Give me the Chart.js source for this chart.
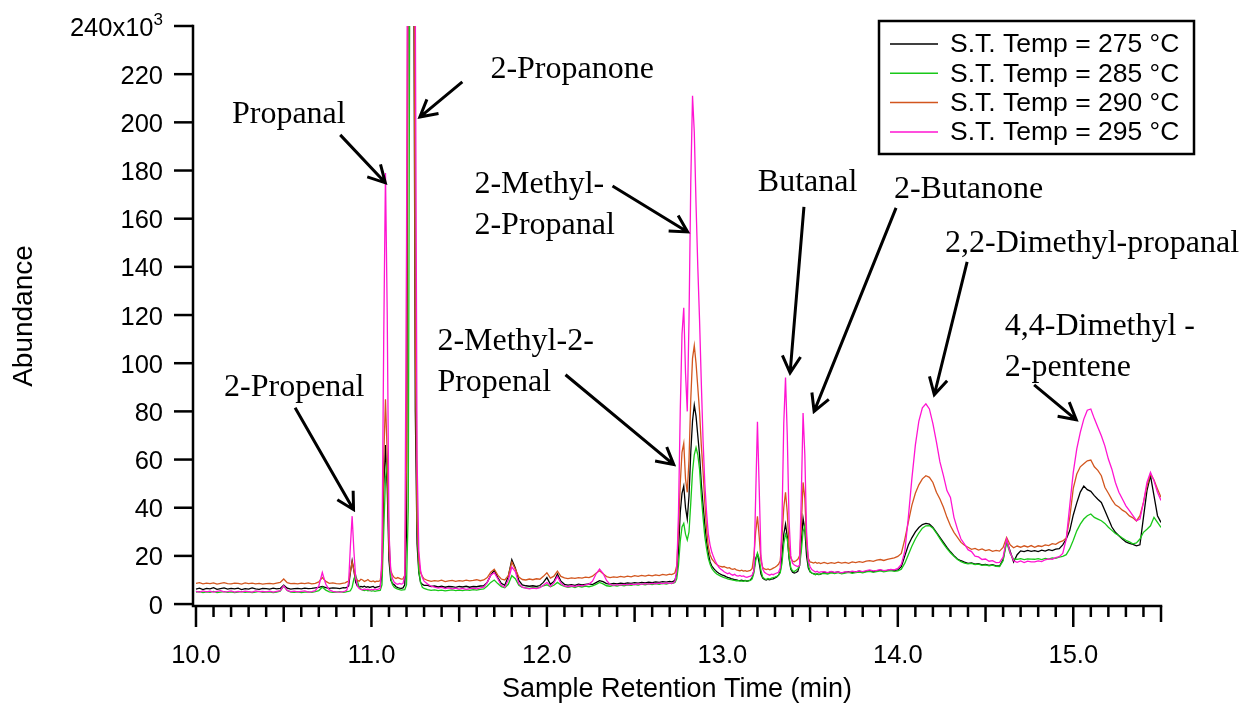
<!DOCTYPE html>
<html>
<head>
<meta charset="utf-8">
<script src="https://cdn.jsdelivr.net/npm/chart.js@4.4.1/dist/chart.umd.min.js"></script>
<style>
  html, body { margin: 0; background: #fff; }
  canvas { display: block; }
</style>
</head>
<body>
<canvas id="chromatogram" width="1249" height="706"></canvas>
<script>
// retention-time sampling: [first, last, step] in min (finer around the sharp peaks)
const timeBlocks = [
  [10.00, 10.84, 0.02],
  [10.85, 11.30, 0.01],
  [11.32, 12.70, 0.02],
  [12.71, 13.56, 0.01],
  [13.58, 15.50, 0.02]
];

const seriesLabels = ['S.T. Temp = 275 °C', 'S.T. Temp = 285 °C', 'S.T. Temp = 290 °C', 'S.T. Temp = 295 °C'];
const traceColors = ['#000000', '#19c819', '#d2561e', '#ff14d2'];

// abundance x10^3, one value per sampling time
const abund275 = [
  // 10.00 - 10.84
  6.2,6.6,6.0,6.5,6.3,6.8,6.1,6.4,6.7,6.2, 6.5,6.3,6.6,6.0,6.4,6.2,6.7,6.3,6.1,6.5,
  6.4,6.2,6.6,6.3,6.5,7.9,6.6,6.2,6.4,6.5, 6.3,6.6,6.4,6.5,6.7,6.9,7.3,6.8,6.5,6.7, 6.6,6.4,6.8,
  // 10.85 - 11.30
  6.7,6.9,7.5,13,18,14,9,7.5,7.0,7.3, 7.1,7.4,7.0,7.2,6.9,7.1,7.3,6.8,7.0,7.2,
  7.5,12,48,66,48,18,10,8.5,8.0,7.2, 6.8,6.6,6.5,6.7,8,30,300,550,500,300, 80,25,13,9,8.2,7.8,
  // 11.32 - 12.70
  7.8,7.3,7.5,7.1,7.4,7.0,7.3,7.2,6.9,7.3, 7.1,7.4,7.0,7.3,7.2,7.5,7.6,9.0,12.0,14.0,
  11.0,8.6,7.8,11.5,18.4,15.0,9.8,8.0,7.6,7.4, 7.6,7.3,7.7,9.0,11.0,8.2,9.4,12.5,9.5,8.2,
  7.9,8.1,7.8,8.3,8.0,8.2,8.4,8.1,8.9,9.7, 9.3,8.5,8.3,8.6,8.4,8.7,8.5,8.8,8.6,8.9,
  8.7,9.0,8.8,9.1,8.9,9.2,9.0,9.3,9.1,9.4,
  // 12.71 - 13.56
  9.2,9.4,10,12.5,22,38,46,49,40,35.3, 45,63,76,82.6,78,70,62,50,41,33,
  26,21,17.5,15.8,14.8,14.0,13.3,12.8,12.4,12.0, 11.8,11.4,11.1,10.9,10.6,10.4,10.2,10.0,9.8,9.7,
  9.9,9.6,9.8,9.5,9.7,10.0,11.0,14,19,20.8, 17,12.5,10.8,10.2,10.0,10.3,10.1,10.4,10.5,10.9,
  11.3,12.0,13.5,20,29,33.2,28,19,14.5,13.2, 12.9,13.1,13.6,16,26,35.6,31,20,15,13.4,
  12.9,12.6,12.3,12.5,12.2,12.4,
  // 13.58 - 15.50
  13.2,12.9,13.4,13.0,13.3,12.8,13.2,13.5,13.1,13.4, 13.7,13.3,13.6,13.9,13.5,13.8,14.1,13.7,14.0,14.2,
  13.9,14.2,15.5,20,24.5,27.5,30,31.8,33,33.5, 33.2,31.8,29.8,27.7,25.6,23.5,21.7,20.1,18.7,18.0,
  17.4,16.9,17.1,16.6,16.8,16.3,16.5,16.1,16.4,15.9, 15.8,18.5,26.3,22.0,17.5,20.5,22.1,21.8,22.3,21.9,
  22.2,21.8,22.4,22.0,22.6,22.2,22.8,23.0,24.6,27.0, 30.5,37.0,42.0,46.5,49.0,47.5,46.8,45.0,43.5,42.2,
  38.8,35.4,32.0,29.8,28.4,27.0,25.8,25.2,24.8,24.2, 24.6,36.0,47.1,53.3,45.0,36.7,33.9
];

const abund285 = [
  // 10.00 - 10.84
  5.0,5.2,4.8,5.1,4.9,5.3,4.8,5.0,5.2,4.9, 5.1,4.8,5.0,5.2,4.9,5.1,4.8,5.0,5.3,4.9,
  5.0,5.1,4.8,5.0,5.4,7.6,5.6,5.0,4.9,5.1, 4.8,5.0,5.1,4.9,5.2,5.6,7.0,5.8,5.1,4.9, 5.0,5.2,4.9,
  // 10.85 - 11.30
  5.0,5.2,5.3,5.5,7,10.5,12,9.5,7,6.2, 5.8,5.6,5.9,5.5,5.7,5.4,5.6,5.3,5.5,5.6,
  5.7,8,30,52,60,28,11,8,7,6.5, 6.2,6.0,5.8,5.9,6.0,8,40,300,500,420, 150,35,14,9,7,6.5,
  // 11.32 - 12.70
  6.0,5.7,5.9,5.6,5.8,5.5,5.7,5.9,5.6,5.8, 5.6,5.9,5.7,6.0,5.8,6.1,6.3,7.5,9.0,10.0,
  8.5,7.2,6.8,8.2,11.8,10.5,7.8,6.9,6.7,6.5, 6.8,6.6,7.0,7.6,8.0,7.2,7.8,9.0,7.9,7.3,
  7.0,7.3,6.9,7.4,7.1,7.5,7.2,7.6,8.2,9.0, 8.4,7.6,7.4,7.8,7.5,7.9,7.6,8.0,7.8,8.2,
  7.9,8.3,8.0,8.4,8.1,8.5,8.2,8.6,8.3,8.7,
  // 12.71 - 13.56
  8.5,8.7,9.0,10.5,16,26,32,33.5,29,26.6, 30,42,55,62,65,62,56,45,36,28,
  23,19,16.5,14.8,13.8,13.0,12.4,12.0,11.6,11.3, 11.0,10.8,10.5,10.3,10.1,9.9,9.8,9.6,9.7,9.5,
  9.6,9.4,9.7,9.5,9.6,9.8,10.5,13,18,21.2, 19,14,11.2,10.5,10.3,10.6,10.4,10.8,11.0,11.2,
  11.5,12.0,13.0,17,25,29,27,20,15,13.8, 13.5,14.0,14.6,16,22,30,32.5,24,16,13.5,
  12.8,12.5,12.2,12.6,12.3,12.5,
  // 13.58 - 15.50
  12.8,12.5,13.0,12.7,13.1,12.6,12.9,13.2,12.8,13.1, 13.3,13.0,13.4,13.6,13.2,13.5,13.8,13.4,13.7,13.9,
  13.6,13.8,14.5,17,20.5,24,27,29.5,31.5,32.5, 32.6,31.5,29.5,27.2,25.0,23.0,21.3,19.8,18.5,17.6,
  17.0,16.7,16.9,16.4,16.6,16.1,16.3,15.9,16.2,15.7, 15.6,18.0,25.6,21.0,18.7,18.6,18.9,18.5,18.8,18.7,
  18.6,18.9,18.5,19.0,18.7,19.2,19.0,19.5,19.8,20.5, 23.0,26.5,30.4,33.2,35.3,36.7,37.4,36.0,35.3,34.6,
  33.5,31.9,30.6,29.3,28.5,27.4,26.5,25.8,25.0,25.4, 27.0,29.8,31.1,32.5,36.0,33.9,31.8
];

const abund290 = [
  // 10.00 - 10.84
  8.6,8.9,8.4,8.7,8.5,8.8,8.3,8.6,8.9,8.5, 8.4,8.7,8.6,8.3,8.8,8.5,8.7,8.4,8.6,8.3,
  8.5,8.6,8.4,8.7,9.0,10.4,8.9,8.5,8.6,8.4, 8.7,8.5,8.8,8.4,8.6,9.2,11.0,9.4,8.6,8.8, 8.5,8.4,8.7,
  // 10.85 - 11.30
  8.8,9.2,9.5,13.5,17.5,14,10.5,9.8,9.5,10.3, 10.0,9.4,9.7,10.2,9.5,9.3,9.6,9.2,9.5,9.4,
  9.8,15,60,85,62,22,14,12,11,10.6, 11.0,10.7,10.4,10.5,12,60,350,560,540,350, 110,35,18,13,11.5,10.5,
  // 11.32 - 12.70
  9.8,9.4,9.7,9.5,9.9,9.3,9.6,9.8,9.4,9.7, 9.5,9.9,9.6,9.8,10.1,9.7,10.0,11.0,13.2,14.5,
  12.0,10.4,10.0,11.8,17.4,14.5,11.2,10.2,10.0,10.4, 10.1,10.5,10.3,11.5,13.0,10.8,11.6,13.7,11.5,10.9,
  10.6,10.9,10.7,11.0,10.8,11.2,11.0,11.6,12.8,13.8, 12.6,11.4,11.0,11.3,11.1,11.5,11.2,11.6,11.3,11.8,
  11.5,11.9,11.6,12.0,11.7,12.1,11.8,12.3,12.0,12.4,
  // 12.71 - 13.56
  12.2,12.5,13.0,16,30,50,63,66.7,52,46.4, 60,85,102,107.3,100,90,80,66,55,42,
  31,24,20.5,18.7,17.8,16.9,16.3,15.9,15.6,15.4, 15.6,15.2,14.9,15.1,14.6,14.4,14.7,14.2,14.0,13.8,
  14.1,13.7,13.9,13.6,13.8,14.0,14.8,20,30,36.4, 28,18,15.2,14.6,14.3,14.6,14.2,14.5,14.9,15.3,
  15.8,16.5,18,28,40,46.4,38,24,19,17.8, 17.6,18.0,18.6,20,32,50.5,44,26,19,17.5,
  17.3,17.0,17.4,16.9,17.2,16.8,
  // 13.58 - 15.50
  17.3,16.8,17.2,16.9,17.4,17.0,17.3,16.9,17.5,17.2, 17.6,17.3,17.8,18.0,17.7,18.2,18.5,18.1,18.6,18.9,
  19.2,19.8,21,27,34,41,46,49.5,52,53.3, 52.6,50.5,46.4,43.6,40.2,36.0,32.5,29.8,27.7,25.6,
  24.4,23.6,22.7,23.1,22.4,22.9,22.2,22.6,21.9,22.3, 22.0,23.5,27.7,24.6,23.4,24.1,23.6,24.2,23.7,24.3,
  23.6,24.2,23.9,24.6,24.3,25.1,24.8,25.7,26.2,27.4, 36.0,48.0,54.0,57.0,58.3,59.5,59.8,57.0,55.5,53.3,
  48.5,46.0,43.4,41.2,40.3,39.0,38.1,36.6,35.8,34.5, 36.7,42.2,49.0,54.0,51.5,47.8,44.3
];

const abund295 = [
  // 10.00 - 10.84
  5.3,5.0,5.5,5.1,5.4,5.0,5.3,5.6,5.1,5.2, 5.5,5.0,5.3,5.1,5.4,5.2,5.0,5.5,5.2,5.3,
  5.1,5.4,5.0,5.3,5.6,7.6,5.7,5.2,5.4,5.1, 5.3,5.5,5.0,5.2,5.6,7.5,13.1,8.2,5.9,5.3, 5.1,5.0,5.2,
  // 10.85 - 11.30
  5.4,5.8,9,24,36.5,22,11,7.5,6.5,6.1, 5.9,6.3,6.0,6.2,5.8,6.1,5.9,6.3,6.0,6.2,
  6.5,20,110,179,120,30,14,10.5,9.0,8.5, 8.2,8.6,8.3,8.5,12,150,400,600,620,500, 250,60,22,14,11,9.5,
  // 11.32 - 12.70
  8.3,7.4,7.0,6.6,6.9,6.4,6.7,6.3,6.6,6.2, 6.5,6.1,6.4,6.6,6.3,6.7,7.0,9.0,12.0,13.0,
  10.5,7.8,7.0,10.0,15.4,13.5,8.5,7.0,6.6,6.3, 6.6,6.4,6.8,7.8,9.0,7.4,8.8,11.5,8.6,7.5,
  7.2,7.6,7.3,7.8,7.5,8.0,8.3,9.5,12.5,14.5, 12.8,9.8,8.2,7.8,8.1,7.9,8.2,8.0,8.3,8.1,
  8.4,8.2,8.5,8.3,8.6,8.4,8.7,8.5,8.8,8.6,
  // 12.71 - 13.56
  8.6,8.8,9.5,14,38,80,112,123,96,80, 118,175,211,196,166,140,118,92,68,50,
  38,29,24.5,21.5,19.5,17.8,16.4,15.3,14.6,14.0, 13.4,13.0,12.6,12.9,12.3,12.0,12.4,11.8,11.6,11.9,
  11.5,11.7,11.3,11.1,11.4,11.6,12.0,14,45,75.7, 48,20,14.5,13.2,12.7,12.3,12.0,12.4,12.2,12.6,
  12.9,13.2,15,35,75,94.1,70,35,20,17, 16.2,15.9,15.6,16,45,79.3,62,30,18,15.5,
  14.3,13.8,13.3,13.6,13.1,13.4,
  // 13.58 - 15.50
  13.5,13.1,13.6,13.2,13.4,13.0,13.5,13.3,13.7,13.4, 13.8,13.5,13.9,14.2,13.8,14.0,14.3,13.9,14.1,14.4,
  14.2,14.8,16.5,22,36,52,66,76,81.5,83.1, 81.0,74.9,67.3,59.0,53.3,47.1,44.3,36.0,31.1,27.0,
  24.9,22.6,21.8,19.9,19.6,18.5,18.7,17.8,18.0,17.2, 17.3,19.5,27.0,21.5,18.0,17.3,17.9,17.2,17.8,17.5,
  17.5,17.9,17.6,18.4,18.8,18.6,19.3,19.7,21.0,27.0, 41.0,54.7,64.4,71.3,76.8,80.5,81.0,77.0,73.4,69.9,
  65.7,60.2,56.0,50.5,46.4,43.6,40.8,38.8,36.7,34.6, 35.3,42.2,50.5,54.7,51.2,46.4,43.0
];

const yTickValues = [0, 20, 40, 60, 80, 100, 120, 140, 160, 180, 200, 220, 240];
const xTickLabels = ['10.0', '11.0', '12.0', '13.0', '14.0', '15.0'];

// peak labels: text lines, first baseline at [time, abundance], arrow from -> to
const peakNotes = [
  { lines: ['2-Propenal'], at: [10.160, 86.5], from: [10.565, 81.5], to: [10.898, 39.2] },
  { lines: ['Propanal'], at: [10.205, 199.9], from: [10.822, 194.8], to: [11.079, 174.9] },
  { lines: ['2-Propanone'], at: [11.678, 218.4], from: [11.518, 216.8], to: [11.276, 202.2] },
  { lines: ['2-Methyl-', '2-Propanal'], at: [11.587, 170.7], from: [12.374, 173.6], to: [12.802, 154.5] },
  { lines: ['2-Methyl-2-', 'Propenal'], at: [11.376, 105.6], from: [12.106, 95.2], to: [12.723, 57.9] },
  { lines: ['Butanal'], at: [13.202, 171.5], from: [13.465, 164.9], to: [13.386, 96.0] },
  { lines: ['2-Butanone'], at: [13.978, 168.7], from: [13.990, 164.5], to: [13.523, 80.0] },
  { lines: ['2,2-Dimethyl-propanal'], at: [14.269, 146.2], from: [14.395, 142.1], to: [14.208, 86.9] },
  { lines: ['4,4-Dimethyl -', '2-pentene'], at: [14.610, 111.8], from: [14.777, 91.0], to: [15.017, 76.5] }
];

const SANS = '"Liberation Sans", Arial, sans-serif';
const SERIF = '"Liberation Serif", "Times New Roman", serif';

function buildTimes() {
  const out = [];
  timeBlocks.forEach(([first, last, step]) => {
    const n = Math.round((last - first) / step) + 1;
    for (let i = 0; i < n; i++) out.push(+(first + i * step).toFixed(2));
  });
  return out;
}

const times = buildTimes();
const toPoints = vals => vals.map((v, i) => ({ x: times[i], y: v }));

// Igor-style free axes with minor ticks on x
const axesPlugin = {
  id: 'axes',
  afterDraw(chart) {
    const { ctx, chartArea: a, scales: { x, y } } = chart;
    ctx.save();
    ctx.strokeStyle = '#000';
    ctx.fillStyle = '#000';
    ctx.lineWidth = 2.5;
    ctx.lineCap = 'square';

    ctx.beginPath();
    ctx.moveTo(a.left, a.top);
    ctx.lineTo(a.left, a.bottom);
    ctx.lineTo(a.right, a.bottom);
    ctx.stroke();

    ctx.lineCap = 'butt';
    ctx.font = '25.5px ' + SANS;
    ctx.textAlign = 'right';
    ctx.textBaseline = 'alphabetic';
    yTickValues.forEach(v => {
      const py = y.getPixelForValue(v);
      ctx.beginPath();
      ctx.moveTo(a.left - 19, py);
      ctx.lineTo(a.left, py);
      ctx.stroke();
      if (v === 240) {
        ctx.font = '17px ' + SANS;
        const supW = ctx.measureText('3').width;
        ctx.fillText('3', a.left - 30, py - 1);
        ctx.font = '25.5px ' + SANS;
        ctx.fillText('240x10', a.left - 30 - supW, py + 10);
      } else {
        ctx.fillText(String(v), a.left - 30, py + 9.5);
      }
    });

    for (let i = 0; i <= 55; i++) {
      const px = x.getPixelForValue(10 + i / 10);
      const len = i % 10 === 0 ? 21 : (i % 5 === 0 ? 16 : 11);
      ctx.beginPath();
      ctx.moveTo(px, a.bottom);
      ctx.lineTo(px, a.bottom + len);
      ctx.stroke();
    }
    ctx.textAlign = 'center';
    xTickLabels.forEach(lbl => {
      ctx.fillText(lbl, x.getPixelForValue(parseFloat(lbl)), a.bottom + 57);
    });

    ctx.font = '27px ' + SANS;
    ctx.fillText('Sample Retention Time (min)', (a.left + a.right) / 2, 697);
    ctx.font = '28px ' + SANS;
    ctx.translate(32, (a.top + a.bottom) / 2);
    ctx.rotate(-Math.PI / 2);
    ctx.fillText('Abundance', 0, 0);
    ctx.restore();
  }
};

const notesPlugin = {
  id: 'peakNotes',
  afterDraw(chart) {
    const { ctx, scales: { x, y } } = chart;
    ctx.save();
    ctx.fillStyle = '#000';
    ctx.strokeStyle = '#000';
    ctx.font = '32px ' + SERIF;
    ctx.textAlign = 'left';
    ctx.textBaseline = 'alphabetic';
    ctx.lineWidth = 3;
    peakNotes.forEach(n => {
      const tx = x.getPixelForValue(n.at[0]);
      const ty = y.getPixelForValue(n.at[1]);
      n.lines.forEach((line, i) => ctx.fillText(line, tx, ty + i * 41));

      const x0 = x.getPixelForValue(n.from[0]), y0 = y.getPixelForValue(n.from[1]);
      const x1 = x.getPixelForValue(n.to[0]), y1 = y.getPixelForValue(n.to[1]);
      const ang = Math.atan2(y1 - y0, x1 - x0);
      const head = 19, spread = 0.5;
      ctx.beginPath();
      ctx.moveTo(x0, y0);
      ctx.lineTo(x1, y1);
      ctx.moveTo(x1 - head * Math.cos(ang - spread), y1 - head * Math.sin(ang - spread));
      ctx.lineTo(x1, y1);
      ctx.lineTo(x1 - head * Math.cos(ang + spread), y1 - head * Math.sin(ang + spread));
      ctx.stroke();
    });
    ctx.restore();
  }
};

const boxLegendPlugin = {
  id: 'boxLegend',
  afterDraw(chart) {
    const { ctx } = chart;
    const left = 879, top = 21, w = 315, h = 133;
    ctx.save();
    ctx.fillStyle = '#fff';
    ctx.fillRect(left, top, w, h);
    ctx.strokeStyle = '#000';
    ctx.lineWidth = 2.5;
    ctx.strokeRect(left, top, w, h);
    ctx.font = '26.5px ' + SANS;
    ctx.textAlign = 'left';
    ctx.textBaseline = 'middle';
    chart.data.datasets.forEach((ds, i) => {
      const cy = top + 23 + i * 29.3;
      ctx.strokeStyle = ds.borderColor;
      ctx.lineWidth = 1.5;
      ctx.beginPath();
      ctx.moveTo(left + 11, cy);
      ctx.lineTo(left + 59, cy);
      ctx.stroke();
      ctx.fillStyle = '#000';
      ctx.fillText(ds.label, left + 71, cy + 1);
    });
    ctx.restore();
  }
};

const traces = [abund275, abund285, abund290, abund295];
const drawOrder = [4, 3, 2, 1];

new Chart(document.getElementById('chromatogram'), {
  type: 'line',
  data: {
    datasets: traces.map((vals, i) => ({
      label: seriesLabels[i],
      data: toPoints(vals),
      borderColor: traceColors[i],
      borderWidth: 1.3,
      pointRadius: 0,
      tension: 0,
      fill: false,
      clip: 0,
      order: drawOrder[i]
    }))
  },
  options: {
    responsive: false,
    devicePixelRatio: 1,
    animation: false,
    events: [],
    layout: { padding: { left: 193, right: 88, top: 26, bottom: 100 } },
    plugins: { legend: { display: false }, tooltip: { enabled: false } },
    scales: {
      x: { type: 'linear', min: 9.983, max: 15.5, display: false },
      y: { type: 'linear', min: -0.8, max: 240, display: false }
    }
  },
  plugins: [axesPlugin, notesPlugin, boxLegendPlugin]
});
</script>
</body>
</html>
